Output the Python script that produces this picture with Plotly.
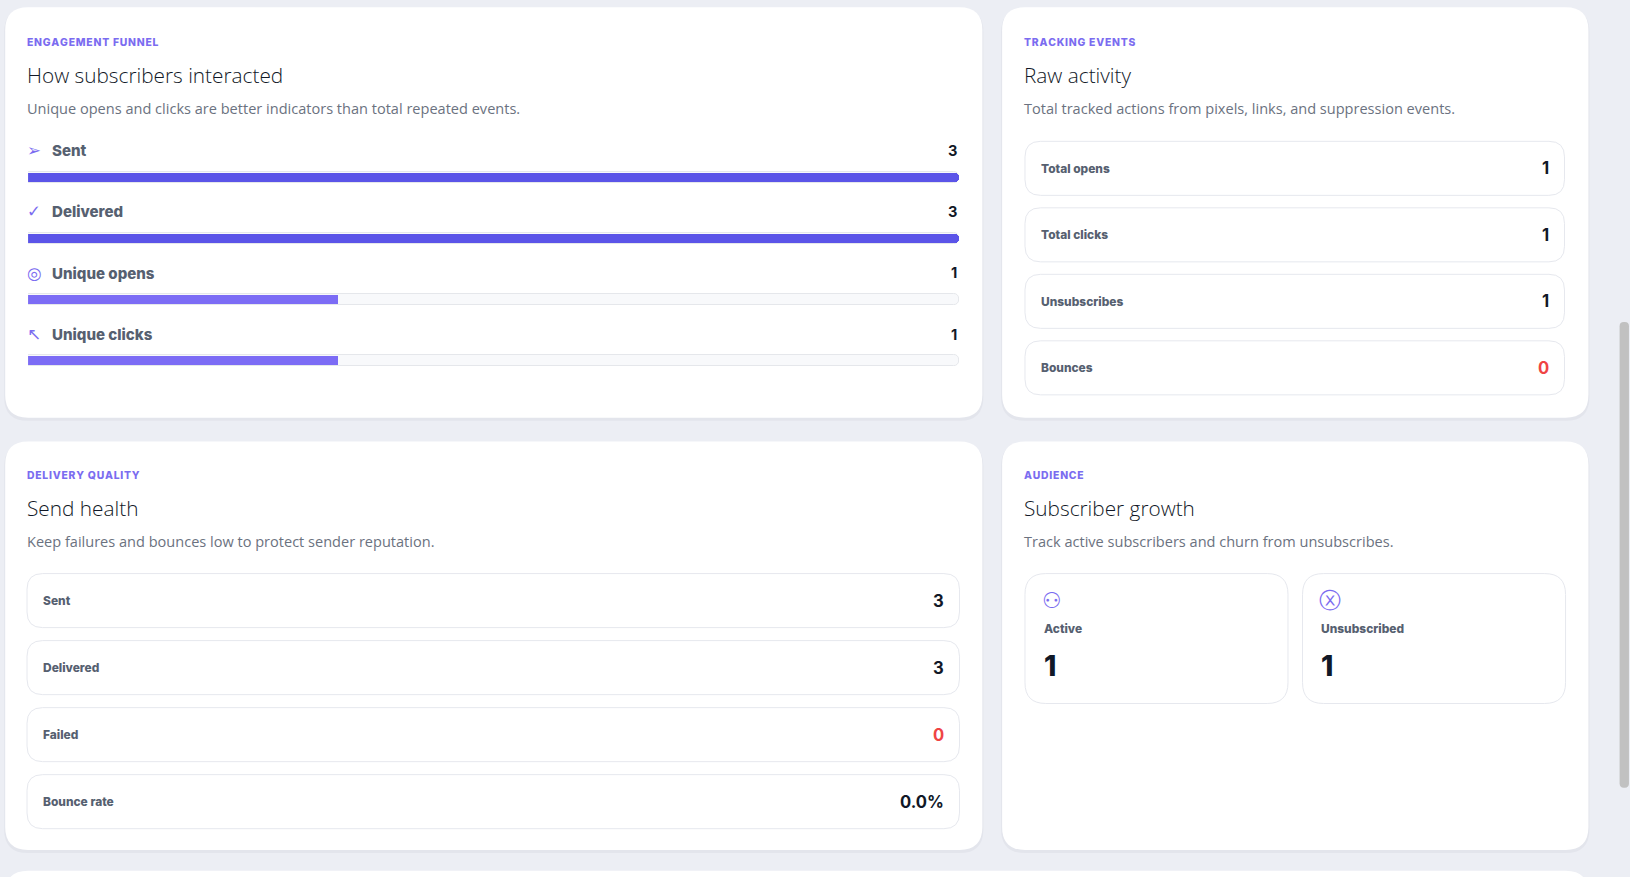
import plotly.graph_objects as go

W0, H0 = 1568.0, 844.0
S = 1630 / W0
def X(p): return p / W0
def Y(p): return 1 - p / H0
def fs(v): return v * S

funnel_labels = ["Sent", "Delivered", "Unique opens", "Unique clicks"]
funnel_values = [3, 3, 1, 1]
funnel_icons = ["➢", "✓", "◎", "↖"]

tracking_labels = ["Total opens", "Total clicks", "Unsubscribes", "Bounces"]
tracking_values = ["1", "1", "1", "0"]

health_labels = ["Sent", "Delivered", "Failed", "Bounce rate"]
health_values = ["3", "3", "0", "0.0%"]

audience_labels = ["Active", "Unsubscribed"]
audience_values = ["1", "1"]
audience_icons = ["⚇", "ⓧ"]

ACCENT = "#7b6cf0"
GRAY = "#6b7280"
LABEL = "#566070"
RED = "#ef4444"
BORDER = "#e6e8ee"

shapes, ann = [], []

def rrect(x0, y0, x1, y1, r, fill, line=None, lw=1):
    a, b, c, d = X(x0), Y(y0), X(x1), Y(y1)
    rx, ry = r / W0, r / H0
    p = (f"M {a+rx},{b} L {c-rx},{b} Q {c},{b} {c},{b-ry} L {c},{d+ry} Q {c},{d} {c-rx},{d} "
         f"L {a+rx},{d} Q {a},{d} {a},{d+ry} L {a},{b-ry} Q {a},{b} {a+rx},{b} Z")
    shapes.append(dict(type="path", path=p, xref="paper", yref="paper", fillcolor=fill,
                       line=dict(color=line or fill, width=lw if line else 0), layer="below"))

def txt(x, y, s, size, color, weight=400, anchor="left", family="Inter"):
    ann.append(dict(x=X(x), y=Y(y), xref="paper", yref="paper", text=s,
                    showarrow=False, xanchor=anchor, yanchor="middle",
                    font=dict(size=fs(size), color=color, family=family, weight=weight)))

def header(x, y, kicker, title, sub):
    txt(x, y, "&#8202;".join(kicker), 10, ACCENT, 800)
    txt(x, y + 31, title, 20, "#111827", 300, family="Open Sans")
    txt(x, y + 63, sub, 14, GRAY, 400, family="Open Sans")

shapes.append(dict(type="rect", xref="paper", yref="paper", x0=0, x1=1, y0=0, y1=1,
                   fillcolor="#eceef4", line_width=0, layer="below"))
for (x0, y0, x1, y1) in [(5, 7, 945, 402), (964, 7, 1528, 402), (5, 425, 945, 818), (964, 425, 1528, 818)]:
    rrect(x0 - 1, y0 + 1, x1 + 1, y1 + 3, 23, "#e3e5ec")
    rrect(x0, y0, x1, y1, 22, "#ffffff")
rrect(5, 838, 1528, 900, 22, "#ffffff")
rrect(1558, 310, 1567, 758, 4, "#c1c1c1")

header(24, 41, "ENGAGEMENT FUNNEL", "How subscribers interacted",
       "Unique opens and clicks are better indicators than total repeated events.")
for i, (lab, val, ic) in enumerate(zip(funnel_labels, funnel_values, funnel_icons)):
    yy = 145 + 59 * i
    txt(33, yy, ic, 16, ACCENT, 400, anchor="center", family="DejaVu Sans")
    txt(48, yy, lab, 14.5, LABEL, 800)
    txt(923, yy, str(val), 14, "#111827", 700, anchor="right")

maxv = max(funnel_values)
rows = list(range(len(funnel_values)))
track = go.Bar(x=[maxv] * len(rows), y=rows, orientation="h", width=0.17,
               marker=dict(color="#f8f9fb", line=dict(color="#e5e7eb", width=1), cornerradius=5),
               hoverinfo="skip", showlegend=False)
fill = go.Bar(x=funnel_values, y=rows, orientation="h", width=0.15,
              marker=dict(color=funnel_values, colorscale=[[0, "#7c6cf5"], [1, "#5b54e8"]],
                          cornerradius=5, line_width=0),
              showlegend=False)
fig = go.Figure([track, fill])

header(983, 41, "TRACKING EVENTS", "Raw activity",
       "Total tracked actions from pixels, links, and suppression events.")
for i, (lab, val) in enumerate(zip(tracking_labels, tracking_values)):
    y0 = 136 + 64 * i
    rrect(986, y0, 1505, y0 + 52, 15, "#ffffff", BORDER, 1)
    txt(999, y0 + 26, lab, 11.5, LABEL, 800)
    txt(1492, y0 + 26, val, 16, RED if val == "0" else "#111827", 700, anchor="right")

header(24, 458, "DELIVERY QUALITY", "Send health",
       "Keep failures and bounces low to protect sender reputation.")
for i, (lab, val) in enumerate(zip(health_labels, health_values)):
    y0 = 552 + 64.5 * i
    rrect(26, y0, 923, y0 + 52, 15, "#ffffff", BORDER, 1)
    txt(39, y0 + 26, lab, 11.5, LABEL, 800)
    txt(910, y0 + 26, val, 16, RED if val == "0" else "#111827", 700, anchor="right")

header(983, 458, "AUDIENCE", "Subscriber growth",
       "Track active subscribers and churn from unsubscribes.")
for i, (lab, val, ic) in enumerate(zip(audience_labels, audience_values, audience_icons)):
    x0 = 986 + 267 * i
    rrect(x0, 552, x0 + 253, 677, 20, "#ffffff", BORDER, 1)
    txt(x0 + 26, 578, ic, 21, ACCENT, 400, anchor="center", family="DejaVu Sans")
    txt(x0 + 16, 605, lab, 11.5, LABEL, 800)
    txt(x0 + 16, 641, val, 27, "#111827", 800)

fig.update_layout(
    width=1630, height=877, margin=dict(l=0, r=0, t=0, b=0),
    paper_bgcolor="#eceef4", plot_bgcolor="rgba(0,0,0,0)",
    barmode="overlay", bargap=0, shapes=shapes, annotations=ann,
    xaxis=dict(domain=[X(27), X(923)], range=[0, maxv], visible=False, fixedrange=True),
    yaxis=dict(domain=[Y(376.5), Y(141.5)], range=[3.5, -0.5], visible=False, fixedrange=True),
    font=dict(family="Inter"),
)
fig.write_html("out.html", config={"displayModeBar": False})
with open("out.html", encoding="utf-8") as f:
    html = f.read()
html = html.replace("<body>", '<body style="margin:0;overflow:hidden">', 1)
with open("out.html", "w", encoding="utf-8") as f:
    f.write(html)
